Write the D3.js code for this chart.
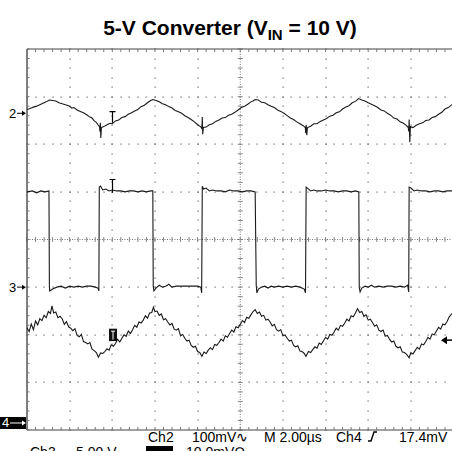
<!DOCTYPE html>
<html>
<head>
<meta charset="utf-8">
<script src="https://cdn.jsdelivr.net/npm/d3@7"></script>
<style>
  body { margin: 0; background: #fff; }
  svg { display: block; }
  text { font-family: "Liberation Sans", Arial, sans-serif; }
</style>
</head>
<body>
<svg id="scope" width="452" height="451"></svg>
<script>
// Ch2 output ripple, mV (time in us)
var ch2Data = [
  [0,8],[0.15,10],[0.3,13],[0.45,15],[0.6,18],[0.75,21],[0.9,24],[1.05,28],[1.2,27],
  [1.35,26],[1.5,22],[1.65,20],[1.8,18],[1.95,16],[2.1,11],[2.2,12],[2.35,7],[2.5,4],[2.65,1],[2.8,-3],[2.95,-8],[3.05,-10],[3.15,-16],[3.25,-19],[3.33,-24],[3.4,-28],
  [3.42,-38],[3.44,-20],[3.46,-52],[3.49,-30],
  [3.6,-28],[3.75,-24],[3.9,-21],[4.0,-22],[4.15,-16],[4.3,-14],[4.45,-9],[4.6,-7],[4.75,-2],[4.9,1],[5.05,5],[5.2,8],[5.35,14],[5.5,17],[5.65,22],[5.8,27],[5.9,29],
  [6.05,27],[6.2,24],[6.35,20],[6.5,18],[6.65,14],[6.8,11],[6.95,6],[7.1,3],[7.25,0],[7.4,-5],[7.55,-9],[7.7,-13],[7.85,-18],[8.0,-24],[8.1,-27],[8.18,-30],
  [8.2,-33],[8.22,-8],[8.24,-44],[8.27,-30],
  [8.4,-29],[8.55,-24],[8.7,-22],[8.85,-17],[9.0,-14],[9.15,-10],[9.3,-9],[9.45,-4],[9.6,-2],[9.75,2],[9.9,7],[10.05,12],[10.2,15],[10.35,19],[10.5,24],[10.6,26],[10.7,29],
  [10.85,28],[11.0,23],[11.15,22],[11.3,18],[11.45,15],[11.6,12],[11.75,7],[11.9,4],[12.05,0],[12.2,-5],[12.35,-10],[12.5,-13],[12.65,-18],[12.8,-22],[12.95,-26],[13.05,-30],
  [13.07,-42],[13.09,-24],[13.12,-46],[13.15,-30],
  [13.3,-27],[13.45,-22],[13.6,-22],[13.75,-17],[13.9,-14],[14.05,-11],[14.2,-6],[14.35,-4],[14.5,1],[14.65,3],[14.8,9],[14.95,13],[15.1,16],[15.25,22],[15.4,25],[15.55,31],
  [15.7,28],[15.85,26],[16.0,22],[16.15,19],[16.3,16],[16.45,12],[16.6,7],[16.75,5],[16.9,0],[17.05,-4],[17.2,-10],[17.35,-12],[17.5,-18],[17.65,-21],[17.8,-26],[17.88,-30],
  [17.9,-38],[17.92,-13],[17.95,-61],[17.98,-28],
  [18.1,-30],[18.25,-25],[18.4,-22],[18.55,-20],[18.7,-15],[18.85,-14],[19.0,-9],[19.15,-7],[19.3,-2],[19.45,2],[19.6,9],[19.75,12],[19.95,19]
];

// Ch3 switch node, V
var ch3Data = [
  [0,10.0],[0.25,10.1],[0.45,9.9],[0.65,10.1],[0.85,10.0],[1.03,10.1],
  [1.05,0.0],[1.07,-0.4],[1.2,-0.2],[1.4,0.0],[1.6,0.1],[1.8,-0.1],[2.0,0.1],[2.2,0.0],[2.4,0.1],[2.6,0.0],[2.8,0.1],[3.0,0.1],[3.2,0.0],[3.33,-0.1],[3.37,-0.4],
  [3.39,10.5],[3.45,10.6],[3.55,10.2],[3.7,10.3],[3.85,10.1],[4.0,10.2],[4.2,10.1],[4.4,10.1],[4.6,10.0],[4.8,10.1],[5.0,10.1],[5.2,10.0],[5.4,10.1],[5.6,10.0],[5.8,10.1],[5.9,10.1],
  [5.92,0.1],[5.95,-0.4],[6.05,-0.1],[6.2,0.2],[6.35,0.0],[6.5,0.1],[6.65,0.3],[6.8,0.0],[7.0,0.1],[7.2,0.1],[7.4,0.1],[7.6,0.1],[7.8,0.1],[8.0,0.1],[8.15,0.0],[8.19,-0.6],
  [8.22,10.6],[8.28,10.3],[8.4,10.4],[8.55,10.1],[8.7,10.2],[8.9,10.1],[9.1,10.1],[9.3,10.0],[9.5,10.2],[9.7,10.1],[9.9,10.1],[10.1,10.0],[10.3,10.1],[10.5,10.1],[10.7,10.0],
  [10.75,0.2],[10.78,-0.6],[10.85,-0.2],[11.0,0.0],[11.15,0.1],[11.3,-0.1],[11.45,0.1],[11.6,0.0],[11.8,0.1],[12.0,0.0],[12.2,0.1],[12.4,0.0],[12.6,0.1],[12.8,0.0],[13.0,-0.2],[13.06,-0.6],
  [13.09,10.5],[13.15,10.4],[13.3,10.1],[13.45,10.2],[13.6,10.1],[13.8,10.1],[14.0,10.2],[14.2,10.1],[14.4,10.1],[14.6,10.0],[14.8,10.1],[15.0,10.1],[15.2,10.0],[15.4,10.1],[15.56,10.0],
  [15.58,0.0],[15.62,-0.5],[15.7,-0.1],[15.85,0.1],[16.0,0.0],[16.15,0.2],[16.3,0.0],[16.5,0.1],[16.7,0.0],[16.9,0.1],[17.1,0.1],[17.3,0.0],[17.5,0.1],[17.7,0.0],[17.85,0.2],[17.9,-0.5],
  [17.92,10.5],[18.0,10.4],[18.15,10.1],[18.3,10.2],[18.5,10.1],[18.7,10.1],[18.9,10.0],[19.1,10.1],[19.3,10.1],[19.5,10.0],[19.7,10.1],[19.95,10.1]
];

// Ch4 inductor current sense, mV
var ch4Data = [
  [0,20.0],[0.1,19.2],[0.2,20.8],[0.3,19.6],[0.4,21.4],[0.5,20.6],[0.6,21.9],[0.7,21.5],[0.8,22.6],[0.9,22.1],[1.0,23.4],[1.1,23.0],[1.17,24.6],
  [1.25,23.1],[1.35,23.3],[1.45,22.1],[1.55,22.4],[1.65,21.9],[1.75,20.7],[1.85,21.3],[1.95,20.2],[2.05,19.9],[2.15,19.4],[2.25,19.8],[2.35,18.4],[2.45,18.1],[2.55,18.6],[2.65,17.1],[2.75,16.9],[2.85,16.6],[2.95,16.9],[3.05,15.5],[3.15,15.2],[3.25,14.8],[3.35,13.8],
  [3.45,14.7],[3.55,14.6],[3.65,15.0],[3.75,15.6],[3.85,15.3],[3.95,16.4],[4.05,16.1],[4.15,16.7],[4.25,17.6],[4.35,17.0],[4.45,17.8],[4.55,18.5],[4.65,18.2],[4.75,19.3],[4.85,18.8],[4.95,19.6],[5.05,20.5],[5.15,20.1],[5.25,21.2],[5.35,21.0],[5.45,21.6],[5.55,22.5],[5.65,22.0],[5.75,23.1],[5.85,23.2],[5.93,24.3],
  [6.0,23.4],[6.1,23.5],[6.2,22.6],[6.3,22.9],[6.4,21.7],[6.5,21.9],[6.6,21.2],[6.7,20.6],[6.8,20.9],[6.9,19.7],[7.0,19.5],[7.1,19.8],[7.2,18.3],[7.3,18.6],[7.4,17.8],[7.5,17.2],[7.6,17.4],[7.7,16.3],[7.8,15.9],[7.9,16.1],[8.0,15.0],[8.1,14.8],[8.2,14.0],
  [8.3,14.9],[8.4,14.6],[8.5,15.3],[8.6,15.8],[8.7,15.4],[8.8,16.5],[8.9,16.3],[9.0,16.9],[9.1,17.6],[9.2,17.2],[9.3,18.3],[9.4,18.0],[9.5,18.8],[9.6,19.5],[9.7,19.1],[9.8,20.2],[9.9,20.0],[10.0,20.7],[10.1,21.5],[10.2,21.1],[10.3,22.2],[10.4,22.0],[10.5,22.7],[10.6,23.4],[10.7,23.8],
  [10.8,23.0],[10.9,23.3],[11.0,22.4],[11.1,22.6],[11.2,21.6],[11.3,21.8],[11.4,21.2],[11.5,20.4],[11.6,20.7],[11.7,19.6],[11.8,19.3],[11.9,19.6],[12.0,18.3],[12.1,18.5],[12.2,17.8],[12.3,17.2],[12.4,17.4],[12.5,16.3],[12.6,16.0],[12.7,16.2],[12.8,15.1],[12.9,15.0],[13.0,14.6],[13.08,14.0],
  [13.2,15.0],[13.3,14.8],[13.4,15.4],[13.5,16.0],[13.6,15.7],[13.7,16.8],[13.8,16.5],[13.9,17.2],[14.0,18.0],[14.1,17.6],[14.2,18.6],[14.3,18.4],[14.4,19.1],[14.5,19.9],[14.6,19.5],[14.7,20.5],[14.8,20.3],[14.9,21.0],[15.0,21.8],[15.1,21.4],[15.2,22.5],[15.3,22.3],[15.4,23.1],[15.5,24.0],
  [15.6,23.2],[15.7,23.4],[15.8,22.4],[15.9,22.7],[16.0,21.6],[16.1,21.8],[16.2,21.1],[16.3,20.3],[16.4,20.6],[16.5,19.5],[16.6,19.2],[16.7,19.5],[16.8,18.2],[16.9,18.4],[17.0,17.6],[17.1,17.0],[17.2,17.2],[17.3,16.1],[17.4,15.8],[17.5,16.0],[17.6,14.9],[17.7,14.8],[17.8,14.4],[17.92,13.7],
  [18.0,14.8],[18.1,14.5],[18.2,15.2],[18.3,15.9],[18.4,15.5],[18.5,16.6],[18.6,16.4],[18.7,17.1],[18.8,18.0],[18.9,17.6],[19.0,18.7],[19.1,18.5],[19.2,19.3],[19.3,20.1],[19.4,19.7],[19.5,20.8],[19.6,20.6],[19.7,21.3],[19.8,22.3],[19.95,23.1]
];

// readout texts
var readoutTop = ["Ch2", "100mV\u223F", "M 2.00\u00B5s", "Ch4", "17.4mV"];
var readoutBottom = ["Ch3", "5.00 V", "Ch4", "10.0mV\u2126"];
var triggerLevel = 17.4; // mV on Ch4
var markerTime = 4.0;    // us

var svg = d3.select("#scope");

// screen: 10 x 8 divisions, 2 us/div
var x = d3.scaleLinear().domain([0, 20]).range([27, 453.5]);
var yDiv = d3.scaleLinear().domain([-4, 4]).range([430, 49]);

// channel scales: ground position (div) and volts/div
var ch2 = d3.scaleLinear().domain([0, 100]).range([yDiv(2.65), yDiv(3.65)]);
var ch3 = d3.scaleLinear().domain([0, 5]).range([yDiv(-1), yDiv(0)]);
var ch4 = d3.scaleLinear().domain([0, 10]).range([yDiv(-3.853), yDiv(-2.853)]);

// Title
var title = svg.append("text")
  .attr("x", 230)
  .attr("y", 35)
  .attr("text-anchor", "middle")
  .style("font-size", "21px")
  .style("font-weight", "bold");
title.append("tspan").text("5-V Converter (V");
title.append("tspan").attr("dy", 5).style("font-size", "15px").text("IN");
title.append("tspan").attr("dy", -5).text(" = 10 V)");

// graticule
var grid = svg.append("g");
var minorX = d3.range(0, 50.5).map(function (k) { return k * 0.4; });
var minorY = d3.range(0, 40.5).map(function (k) { return -4 + k * 0.2; });

[2, 4, 6, 8, 12, 14, 16, 18].forEach(function (t) {
  grid.selectAll(null)
    .data(minorY)
    .enter()
    .append("rect")
    .attr("x", Math.round(x(t)) - 0.5)
    .attr("y", function (d) { return Math.round(yDiv(d)) - 0.5; })
    .attr("width", 1.2)
    .attr("height", 1.2)
    .attr("fill", "#666");
});
[-3, -2, -1, 1, 2, 3].forEach(function (v) {
  grid.selectAll(null)
    .data(minorX)
    .enter()
    .append("rect")
    .attr("x", function (d) { return Math.round(x(d)) - 0.5; })
    .attr("y", Math.round(yDiv(v)) - 0.5)
    .attr("width", 1.2)
    .attr("height", 1.2)
    .attr("fill", "#666");
});

// center crosshair with minor ticks
grid.append("line")
  .attr("x1", x(0)).attr("x2", x(20))
  .attr("y1", yDiv(0)).attr("y2", yDiv(0))
  .attr("stroke", "#777").attr("stroke-dasharray", "1,1.5");
grid.append("line")
  .attr("x1", x(10)).attr("x2", x(10))
  .attr("y1", yDiv(-4)).attr("y2", yDiv(4))
  .attr("stroke", "#777").attr("stroke-dasharray", "1,1.5");
grid.selectAll(null)
  .data(minorX)
  .enter()
  .append("line")
  .attr("x1", function (d) { return x(d); })
  .attr("x2", function (d) { return x(d); })
  .attr("y1", yDiv(0) - 2.5)
  .attr("y2", yDiv(0) + 2.5)
  .attr("stroke", "#888");
grid.selectAll(null)
  .data(minorY)
  .enter()
  .append("line")
  .attr("x1", x(10) - 2.5)
  .attr("x2", x(10) + 2.5)
  .attr("y1", function (d) { return yDiv(d); })
  .attr("y2", function (d) { return yDiv(d); })
  .attr("stroke", "#888");

// border and border ticks
grid.append("line")
  .attr("x1", x(0)).attr("x2", x(20))
  .attr("y1", yDiv(4)).attr("y2", yDiv(4))
  .attr("stroke", "#444").attr("stroke-width", 1.2);
grid.append("line")
  .attr("x1", x(0)).attr("x2", x(20))
  .attr("y1", yDiv(-4)).attr("y2", yDiv(-4))
  .attr("stroke", "#444").attr("stroke-width", 1.2);
grid.append("line")
  .attr("x1", x(0)).attr("x2", x(0))
  .attr("y1", yDiv(4)).attr("y2", yDiv(-4))
  .attr("stroke", "#555").attr("stroke-width", 1.5);
grid.selectAll(null)
  .data(minorX)
  .enter()
  .append("line")
  .attr("x1", function (d) { return x(d); })
  .attr("x2", function (d) { return x(d); })
  .attr("y1", yDiv(4))
  .attr("y2", yDiv(4) + 3)
  .attr("stroke", "#777");
grid.selectAll(null)
  .data(minorX)
  .enter()
  .append("line")
  .attr("x1", function (d) { return x(d); })
  .attr("x2", function (d) { return x(d); })
  .attr("y1", yDiv(-4))
  .attr("y2", yDiv(-4) - 3)
  .attr("stroke", "#777");
grid.selectAll(null)
  .data(minorY)
  .enter()
  .append("line")
  .attr("x1", x(0))
  .attr("x2", x(0) + 2.5)
  .attr("y1", function (d) { return yDiv(d); })
  .attr("y2", function (d) { return yDiv(d); })
  .attr("stroke", "#777");

// traces
function trace(data, scale) {
  var line = d3.line()
    .x(function (d) { return x(d[0]); })
    .y(function (d) { return scale(d[1]); });
  svg.append("path")
    .datum(data)
    .attr("d", line)
    .attr("fill", "none")
    .attr("stroke", "#1a1a1a")
    .attr("stroke-width", 1.1);
}
trace(ch2Data, ch2);
trace(ch3Data, ch3);
trace(ch4Data, ch4);

// ground markers on the left
function groundMarker(label, y, inverted) {
  var gm = svg.append("g").attr("transform", "translate(0," + y + ")");
  var col = inverted ? "#fff" : "#000";
  if (inverted) {
    gm.append("rect").attr("x", 0).attr("y", -6).attr("width", 26).attr("height", 12).attr("fill", "#000");
  }
  gm.append("text")
    .attr("x", inverted ? 2 : 9)
    .attr("y", 4.5)
    .style("font-size", "13px")
    .attr("fill", col)
    .text(label);
  var ax = inverted ? 10 : 17;
  gm.append("line").attr("x1", ax).attr("x2", 24).attr("y1", 0).attr("y2", 0).attr("stroke", col);
  gm.append("path").attr("d", "M26,0L22,-2.5L22,2.5Z").attr("fill", col);
}
groundMarker("2", ch2(0), false);
groundMarker("3", ch3(0), false);
groundMarker("4", ch4(0), true);

// trigger level marker on the right
var ty = ch4(triggerLevel);
svg.append("path")
  .attr("d", "M441," + ty + "L447," + (ty - 4) + "L447," + (ty + 4) + "Z")
  .attr("fill", "#000");
svg.append("line")
  .attr("x1", 446).attr("x2", 452)
  .attr("y1", ty).attr("y2", ty)
  .attr("stroke", "#000").attr("stroke-width", 1.5);

// trigger point markers on the traces
function tMarker(yTop, yBot) {
  var mx = Math.round(x(markerTime)) + 0.5;
  svg.append("path")
    .attr("d", "M" + (mx - 3) + "," + yTop + "H" + (mx + 3) + "M" + mx + "," + yTop + "V" + yBot)
    .attr("stroke", "#000")
    .attr("stroke-width", 1.2)
    .attr("fill", "none");
}
tMarker(ch2(3.4), ch2(-19.7));
tMarker(ch3(11.3), ch3(9.9));

var bx = Math.round(x(markerTime)) - 3;
var bTop = ch4(19.8), bBot = ch4(17.2);
svg.append("rect")
  .attr("x", bx).attr("y", bTop)
  .attr("width", 8).attr("height", bBot - bTop)
  .attr("fill", "#111");
svg.append("path")
  .attr("d", "M" + (bx + 2) + "," + (bTop + 2.5) + "H" + (bx + 6) + "M" + (bx + 4) + "," + (bTop + 2.5) + "V" + (bBot - 1.5))
  .attr("stroke", "#fff")
  .attr("fill", "none");

// readout
var ro = svg.append("g").style("font-size", "14px").attr("fill", "#000");
var topX = [148, 192, 264, 336, 399];
ro.selectAll(null)
  .data(readoutTop)
  .enter()
  .append("text")
  .attr("x", function (d, i) { return topX[i]; })
  .attr("y", 442)
  .text(function (d) { return d; });
// trigger slope symbol
svg.append("path")
  .attr("d", "M368,441H371L374,432H377")
  .attr("stroke", "#000")
  .attr("stroke-width", 1.4)
  .attr("fill", "none");

var botX = [30, 76, 148, 186];
svg.append("rect").attr("x", 146).attr("y", 446).attr("width", 27).attr("height", 12).attr("fill", "#000");
ro.selectAll(null)
  .data(readoutBottom)
  .enter()
  .append("text")
  .attr("x", function (d, i) { return botX[i]; })
  .attr("y", 457)
  .attr("fill", function (d, i) { return i == 2 ? "#fff" : "#000"; })
  .text(function (d) { return d; });
</script>
</body>
</html>
